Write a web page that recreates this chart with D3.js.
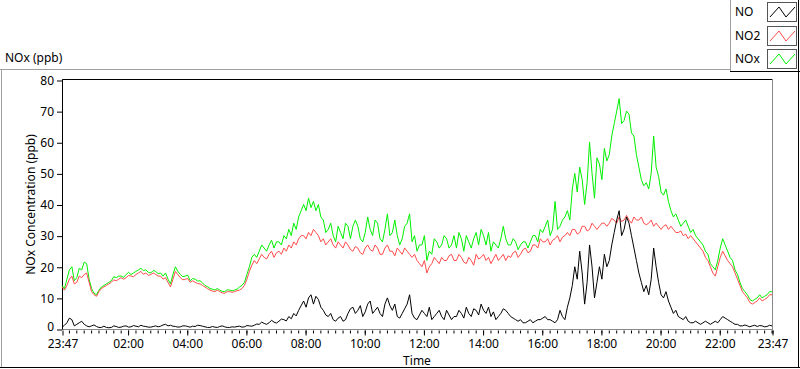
<!DOCTYPE html>
<html>
<head>
<meta charset="utf-8">
<script src="https://cdn.jsdelivr.net/npm/d3@7"></script>
<style>
  body { margin: 0; background: #fff; }
  svg { display: block; font-family: "Noto Sans", "Open Sans", sans-serif; }
</style>
</head>
<body>
<svg id="chart" width="800" height="369"></svg>
<script>
// series, one sample every 5 minutes from 23:47
const stepMinutes = 5;
const seriesNames = ["NO", "NO2", "NOx"];
const seriesColors = ["#000000", "#ff4a4a", "#00f000"];

const noValues = [
  0.5, 1.2, 2, 3.5, 3, 1, 1.5, 2, 2.5, 1.5, 1, 0.7, 1, 1.3, 0.8, 0.5, 0.5, 0.9, 0.5, 0.4,
  0.5, 1, 0.8, 0.5, 0.6, 0.9, 1, 0.6, 0.7, 1.1, 0.9, 0.7, 1.2, 0.9, 0.8, 0.6, 0.6, 0.8, 1, 0.7,
  0.9, 1.3, 1.5, 1, 1.2, 0.9, 0.8, 0.6, 0.7, 1, 1, 0.8, 0.6, 0.9, 0.8, 1.2, 1.1, 0.9, 0.7, 0.5,
  0.5, 0.8, 0.6, 0.5, 0.8, 1, 0.7, 0.5, 0.5, 0.7, 0.6, 0.8, 0.9, 0.6, 0.7, 1.1, 1, 0.9, 1.2, 1.6,
  1.5, 2.2, 1.8, 1.5, 2, 2.8, 2.2, 1.9, 2.5, 3.2, 3, 2.6, 4, 3.3, 5, 4.2, 6, 7.5, 9, 7,
  10, 11, 8, 10.5, 9.5, 7, 6, 4.5, 4, 5, 3, 2.5, 3.5, 4, 2.5, 3, 5, 6.5, 7, 5,
  6, 7.5, 4, 5.5, 8, 9, 5, 6, 7, 5, 4, 8, 10, 7.5, 6, 8, 4, 3.5, 5, 6.5,
  8, 11, 5, 3.5, 3, 4.5, 6, 5, 4, 7, 3, 4, 5, 6, 4, 3, 6, 4.5, 3, 4,
  4, 6, 5, 3.5, 7, 5, 4, 6.5, 6, 4.5, 8, 6, 5, 7, 4, 5.5, 3, 4, 5, 6.5,
  6, 5, 4, 3.5, 3, 2.5, 3, 2, 2, 2.5, 3, 2, 2.5, 3, 3, 3.5, 4, 3, 3, 2.5,
  2, 3, 6, 4, 3, 7, 10, 14, 20, 16, 25, 18, 8, 15, 27, 20, 10, 15, 20, 16,
  24, 20, 22, 27, 31, 35, 38, 30, 32, 36, 34, 30, 26, 22, 18, 15, 12, 14, 11, 16,
  26, 20, 15, 11, 10, 12, 9, 7, 5, 6, 4, 3.5, 3, 4, 2.5, 2, 2, 2.5, 2, 1.5,
  2, 2.5, 2, 1.5, 2, 2.5, 2, 3, 4, 3.5, 3, 2.5, 2, 1.5, 1.5, 1, 1, 1.3, 1, 0.7,
  1, 1.2, 0.8, 1.1, 1, 0.7, 0.8, 1.2, 1
];

const no2Values = [
  13.5, 12.5, 14, 16, 17, 14.5, 15, 17, 16.5, 17.5, 18, 15, 12, 11, 10.5, 12, 13, 13.5, 14, 14.5,
  15, 15.8, 15.5, 16, 16.5, 16, 16.5, 17.2, 17, 16.8, 17.5, 18, 18.5, 17.6, 18, 17.2, 17.5, 18, 17.5, 17,
  17, 16, 16.5, 15, 13.5, 16, 18.5, 17.5, 16.5, 15.8, 16, 16.2, 15, 15.5, 15, 14.6, 14.5, 14, 13.5, 13,
  12.5, 12.2, 12, 12.5, 12, 11.6, 11.5, 12, 12, 11.8, 12, 12.3, 12.5, 13, 14, 16, 18.5, 20.5, 22, 21,
  22.5, 24, 23, 22.5, 24, 25, 23, 24.5, 25, 24, 26, 25, 27, 26, 28, 27, 29, 30, 30, 29,
  31, 30, 32, 31, 30, 28, 29, 27, 28, 29, 27, 26, 28, 27, 26, 28, 27, 25.5, 25, 26.5,
  26, 24.5, 24, 26, 27, 25.5, 25, 27, 26, 24, 24, 26, 27, 25, 25, 23.5, 26, 25, 24, 26,
  25, 24, 23, 24, 22, 21, 20, 22, 18, 20, 21, 23, 22, 21, 23, 22, 22, 23.5, 24, 22,
  22, 24, 23, 21.5, 21, 23, 22, 20.5, 24, 22.5, 23, 24, 22, 23, 21, 22.5, 24, 22, 23, 24,
  22, 23.5, 23, 24.5, 25, 23, 24, 25.5, 26, 24.5, 25, 27, 27, 26, 29, 28, 28, 29, 27, 28.5,
  29, 30, 28, 29.5, 30, 31, 30, 32, 32, 30.5, 31, 33, 33, 31.5, 32, 34, 33, 32, 33, 34,
  34, 33, 34, 35.5, 35, 34, 36, 34.5, 35, 36.5, 35, 34, 36, 35, 35, 36, 34, 33.5, 34, 35,
  33, 34, 33, 32, 33, 33.5, 32, 33, 32, 31, 31, 31.5, 30, 30.5, 29, 30, 29, 28, 27, 26,
  25, 23, 22, 20, 18, 17, 20, 23, 25, 23.5, 22, 21, 20, 18, 16, 14, 12, 11, 10, 8.5,
  8, 8.5, 9, 10, 9, 9.5, 10, 11, 11
];

const noxValues = [
  14, 13, 16, 19, 20, 15.5, 16.5, 19.5, 19, 21.5, 21, 16, 13, 11.5, 11, 12.5, 13.5, 14, 14.5, 15,
  15.5, 16.8, 16.5, 17, 17, 16.6, 17.5, 18.2, 17.5, 18, 18.5, 19, 19.5, 18.8, 19, 18.2, 18, 18.8, 18.5, 17.8,
  18, 17, 18, 16, 14.5, 17.5, 20, 18.5, 17.5, 16.8, 17, 17.3, 15.5, 16.2, 16, 15.4, 15.5, 14.8, 14, 13.6,
  13, 12.8, 12.5, 13, 12.5, 12.1, 12, 12.6, 12.5, 12.3, 12.5, 12.8, 13.5, 14, 15, 17.5, 20, 23, 24, 23,
  25, 27, 26, 25, 27, 28.5, 26, 28, 28, 27, 30, 29, 32, 30, 34, 32, 36, 38, 40, 38,
  42, 39, 41, 38, 40, 36, 35, 31, 32, 34, 30, 28, 33, 31, 29, 34, 33, 29, 33, 35,
  33, 29, 28, 31, 36, 32, 30, 35, 34, 29, 28, 32, 37, 30, 31, 35, 30, 27, 29, 33,
  34, 37, 28, 30, 25, 27, 27, 30, 22, 25, 24, 29, 28, 26, 27, 30, 29, 26, 27, 30,
  26, 31, 29, 25, 30, 28, 26, 29, 31, 27, 32, 30, 27, 31, 25, 28, 27, 26, 29, 33,
  29, 27, 27, 29, 28, 25.5, 27, 28, 28, 26, 28, 30, 30, 28, 32, 31, 33, 35, 30, 32,
  41, 32, 33, 35, 36, 38, 35, 45, 50, 44, 52, 48, 40, 47, 60, 50, 42, 55, 53, 48,
  58, 54, 56, 62, 66, 70, 74, 66, 67, 70, 69, 63, 62, 56, 52, 48, 46, 47, 45, 50,
  62, 52, 49, 44, 43, 45, 41, 38, 36, 37, 35, 33, 34, 35, 33, 31, 32, 30, 29, 28,
  27, 25, 24, 21, 20, 19, 22, 26, 29, 27, 25, 23, 22, 19, 17.5, 15, 13, 12, 11, 9.5,
  9, 9.5, 10, 11, 10, 10.5, 11, 12, 12
];

const yTicks = [0, 10, 20, 30, 40, 50, 60, 70, 80];
const chartTitle = "NOx (ppb)";
const yTitle = "NOx Concentration (ppb)";
const xTitle = "Time";

const svg = d3.select("#chart");
const margin = { left: 62, top: 80, right: 772, bottom: 329 };

const start = new Date(2000, 0, 1, 23, 47);
const end = d3.timeHour.offset(start, 24);

const x = d3.scaleTime().domain([start, end]).range([margin.left, margin.right]);
const y = d3.scaleLinear().domain([0, 80]).range([margin.bottom, margin.top]);

// outer frame
svg.append("line").attr("x1", 0).attr("x2", 730).attr("y1", 69.5).attr("y2", 69.5).attr("stroke", "#a0a0a0");
svg.append("line").attr("x1", 1.5).attr("x2", 1.5).attr("y1", 69.5).attr("y2", 368).attr("stroke", "#a0a0a0");
svg.append("line").attr("x1", 0).attr("x2", 800).attr("y1", 367.5).attr("y2", 367.5).attr("stroke", "#000");
svg.append("line").attr("x1", 798.5).attr("x2", 798.5).attr("y1", 71).attr("y2", 368).attr("stroke", "#000");

svg.append("text").attr("x", 5).attr("y", 62).attr("font-size", 12).text(chartTitle);

// plot box
svg.append("rect")
  .attr("x", margin.left + 0.5).attr("y", margin.top - 0.5)
  .attr("width", margin.right - margin.left).attr("height", margin.bottom - margin.top + 1)
  .attr("fill", "#fff").attr("stroke", "#888");
svg.append("line").attr("x1", margin.left + 0.5).attr("x2", margin.right).attr("y1", margin.top - 0.5).attr("y2", margin.top - 0.5).attr("stroke", "#000");
svg.append("line").attr("x1", margin.left + 0.5).attr("x2", margin.left + 0.5).attr("y1", margin.top - 0.5).attr("y2", margin.bottom + 0.5).attr("stroke", "#000");

// y axis
const yAxis = svg.append("g")
  .attr("transform", `translate(${margin.left},0.5)`)
  .call(d3.axisLeft(y).tickValues(yTicks).tickSize(5).tickPadding(3));
yAxis.select(".domain").remove();
yAxis.selectAll("text").attr("font-size", 12).attr("font-family", "Noto Sans, sans-serif").attr("fill", "#000");
// lift the "0" label a touch so it clears the first time label
yAxis.selectAll("text").filter(d => d === 0).attr("dy", "0.1em");

// x axis: minor ticks every 15 min, labels every 2 h plus both ends
const minorTicks = d3.timeMinute.every(15).range(start, end).concat([end]);
const xMinor = svg.append("g")
  .attr("transform", `translate(0.5,${margin.bottom + 1.5})`)
  .call(d3.axisBottom(x).tickValues(minorTicks).tickSize(3).tickFormat(""));
xMinor.select(".domain").remove();

// hours too close to the end labels are dropped (00:00)
const evenHours = d3.timeHour.every(2).range(start, end)
  .filter(t => t - start > 3600000 && end - t > 3600000);
const majorTicks = [start].concat(evenHours, [end]);
const fmt = d3.timeFormat("%H:%M");
const xMajor = svg.append("g")
  .attr("transform", `translate(0.5,${margin.bottom + 1.5})`)
  .call(d3.axisBottom(x).tickValues(majorTicks).tickSize(5).tickPadding(4).tickFormat(fmt));
xMajor.select(".domain").remove();
xMajor.selectAll("text").attr("font-size", 12).attr("font-family", "Noto Sans, sans-serif").attr("fill", "#000");

svg.append("text").attr("x", (margin.left + margin.right) / 2).attr("y", 364.5)
  .attr("text-anchor", "middle").attr("font-size", 12).text(xTitle);
svg.append("text").attr("transform", `translate(35,${(margin.top + margin.bottom) / 2}) rotate(-90)`)
  .attr("text-anchor", "middle").attr("font-size", 12).text(yTitle);

// lines
const allSeries = [noValues, no2Values, noxValues];
const line = d3.line()
  .x((d, i) => x(d3.timeMinute.offset(start, i * stepMinutes)))
  .y(d => y(d));

const plot = svg.append("g");
[2, 1, 0].forEach(k => {
  plot.append("path")
    .datum(allSeries[k])
    .attr("d", line)
    .attr("fill", "none")
    .attr("stroke", seriesColors[k])
    .attr("stroke-width", 1);
});

// legend
const lg = svg.append("g");
lg.append("rect").attr("x", 730.5).attr("y", -1).attr("width", 68).attr("height", 72.5).attr("fill", "#fff").attr("stroke", "none");
lg.append("line").attr("x1", 730.5).attr("x2", 730.5).attr("y1", 0).attr("y2", 72).attr("stroke", "#a0a0a0");
lg.append("line").attr("x1", 730).attr("x2", 800).attr("y1", 71.5).attr("y2", 71.5).attr("stroke", "#000");
lg.append("line").attr("x1", 798.5).attr("x2", 798.5).attr("y1", 0).attr("y2", 72).attr("stroke", "#000");

const swatchTop = [2, 26, 49];
seriesNames.forEach((name, k) => {
  const top = swatchTop[k];
  lg.append("text").attr("x", 735).attr("y", top + 14).attr("font-size", 12).text(name);
  lg.append("rect").attr("x", 767.5).attr("y", top + 0.5).attr("width", 29).attr("height", 19)
    .attr("fill", "#fff").attr("stroke", "#555");
  lg.append("polyline")
    .attr("points", [[770, top + 15], [779, top + 5], [786, top + 15], [795, top + 5]].map(p => p.join(",")).join(" "))
    .attr("fill", "none").attr("stroke", seriesColors[k]).attr("stroke-width", 1);
});
</script>
</body>
</html>
